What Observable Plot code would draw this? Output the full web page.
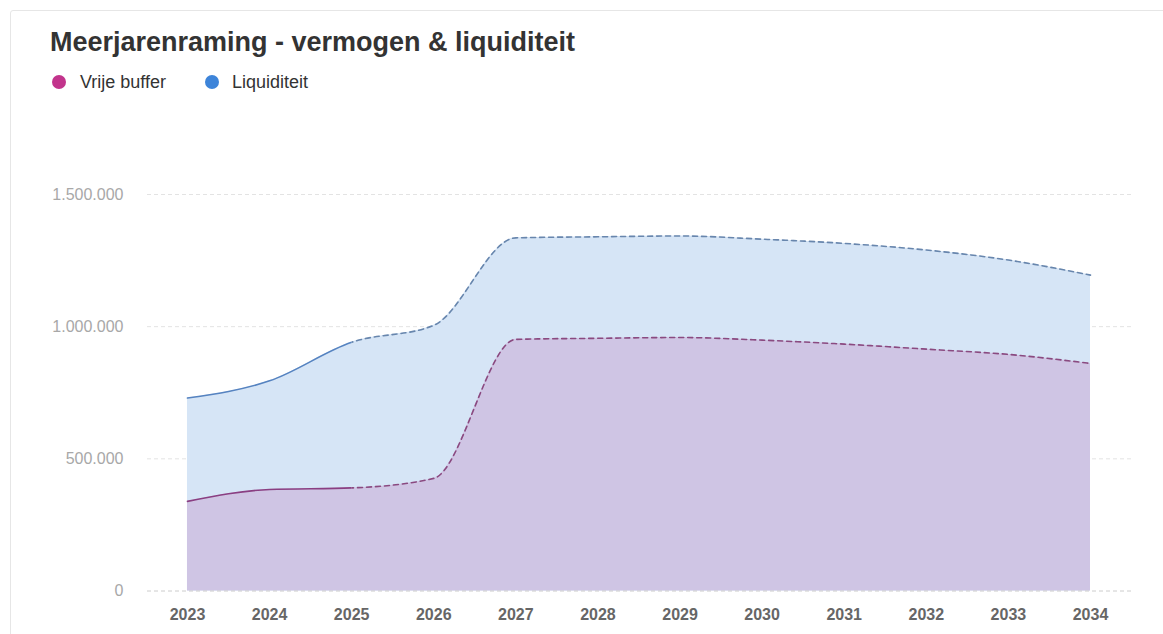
<!DOCTYPE html>
<html>
<head>
<meta charset="utf-8">
<script src="https://cdn.jsdelivr.net/npm/d3@7"></script>
<script src="https://cdn.jsdelivr.net/npm/@observablehq/plot@0.6"></script>
<style>
  html, body { margin: 0; padding: 0; background: #fff; width: 1163px; height: 634px; overflow: hidden; font-family: "Liberation Sans", Arial, sans-serif; }
  #card { position: absolute; left: 10px; top: 10px; width: 1200px; height: 700px; border: 1px solid #e6e6e6; border-radius: 3px; }
  #title { position: absolute; left: 50px; top: 29px; font-size: 27px; line-height: 27px; font-weight: bold; color: #333; white-space: nowrap; }
  .dot { position: absolute; width: 14px; height: 14px; border-radius: 50%; top: 75px; }
  .lab { position: absolute; top: 73px; font-size: 18px; line-height: 18px; color: #333; white-space: nowrap; }
  #chart { position: absolute; left: 0; top: 110px; }
</style>
</head>
<body>
<div id="card"></div>
<div id="title">Meerjarenraming - vermogen &amp; liquiditeit</div>
<div class="dot" style="left:52px;background:#c2348c"></div>
<div class="lab" style="left:80px">Vrije buffer</div>
<div class="dot" style="left:205px;background:#3d84d9"></div>
<div class="lab" style="left:232px">Liquiditeit</div>
<div id="chart"></div>
<script>
const years = [2023, 2024, 2025, 2026, 2027, 2028, 2029, 2030, 2031, 2032, 2033, 2034];
const liquiditeit = [730000, 795000, 941000, 1005000, 1336000, 1340000, 1343000, 1331000, 1315000, 1290000, 1252000, 1195000];
const vrijeBuffer = [339000, 384000, 390000, 426000, 952000, 956000, 959000, 949000, 934000, 915000, 895000, 861000];
const yTicks = [0, 500000, 1000000, 1500000];
const lastActualYear = 2025;

const data = years.map((year, i) => ({year, liq: liquiditeit[i], buf: vrijeBuffer[i]}));

const nl = d3.formatLocale({decimal: ",", thousands: ".", grouping: [3], currency: ["€", ""]});
const fmt = nl.format(",");

const chart = Plot.plot({
  width: 1163,
  height: 524,
  marginTop: 84,
  marginBottom: 43.5,
  marginLeft: 147,
  marginRight: 30,
  style: {fontFamily: "'Liberation Sans', Arial, sans-serif", background: "transparent"},
  x: {domain: [2022.513, 2034.524], ticks: years, tickFormat: d => String(d)},
  y: {domain: [0, 1500000], ticks: yTicks, tickFormat: fmt},
  marks: [
    Plot.ruleY(yTicks.filter(d => d > 0), {stroke: "#e3e3e3", strokeDasharray: "4,3", strokeWidth: 1}),
    Plot.areaY(data, {x: "year", y: "liq", fill: "#d6e5f6", curve: "monotone-x"}),
    Plot.areaY(data, {x: "year", y: "buf", fill: "#cfc5e4", curve: "monotone-x"}),
    Plot.ruleY([0], {stroke: "#cccccc", strokeDasharray: "4,3", strokeWidth: 1}),
    Plot.lineY(data, {x: "year", y: "liq", stroke: "#5683c0", strokeWidth: 1.6, curve: "monotone-x", ariaDescription: "actual"}),
    Plot.lineY(data, {x: "year", y: "liq", stroke: "#6886ad", strokeWidth: 1.6, strokeDasharray: "5,4", curve: "monotone-x", ariaDescription: "forecast"}),
    Plot.lineY(data, {x: "year", y: "buf", stroke: "#8a3f82", strokeWidth: 1.6, curve: "monotone-x", ariaDescription: "actual"}),
    Plot.lineY(data, {x: "year", y: "buf", stroke: "#8a4a80", strokeWidth: 1.6, strokeDasharray: "5,4", curve: "monotone-x", ariaDescription: "forecast"}),
    Plot.axisY({ticks: yTicks, tickFormat: fmt, tickSize: 0, tickPadding: 24, fontSize: 16, fill: "#a8a8a8", label: null}),
    Plot.axisX({ticks: years, tickFormat: d => String(d), tickSize: 0, tickPadding: 18, fontSize: 16, fontWeight: "bold", fill: "#666666", label: null})
  ]
});

// split each line into a solid (actual) and dashed (forecast) part at the last actual year
const sx = chart.scale("x");
const xSplit = sx.apply(lastActualYear);
const svg = d3.select(chart);
const defs = svg.insert("defs", ":first-child");
defs.append("clipPath").attr("id", "clip-actual")
  .append("rect").attr("x", 0).attr("y", 0).attr("width", xSplit).attr("height", 524);
defs.append("clipPath").attr("id", "clip-forecast")
  .append("rect").attr("x", xSplit).attr("y", 0).attr("width", 1163 - xSplit).attr("height", 524);
svg.selectAll('[aria-description="actual"]').attr("clip-path", "url(#clip-actual)");
svg.selectAll('[aria-description="forecast"]').attr("clip-path", "url(#clip-forecast)");

document.getElementById("chart").appendChild(chart);
</script>
</body>
</html>
